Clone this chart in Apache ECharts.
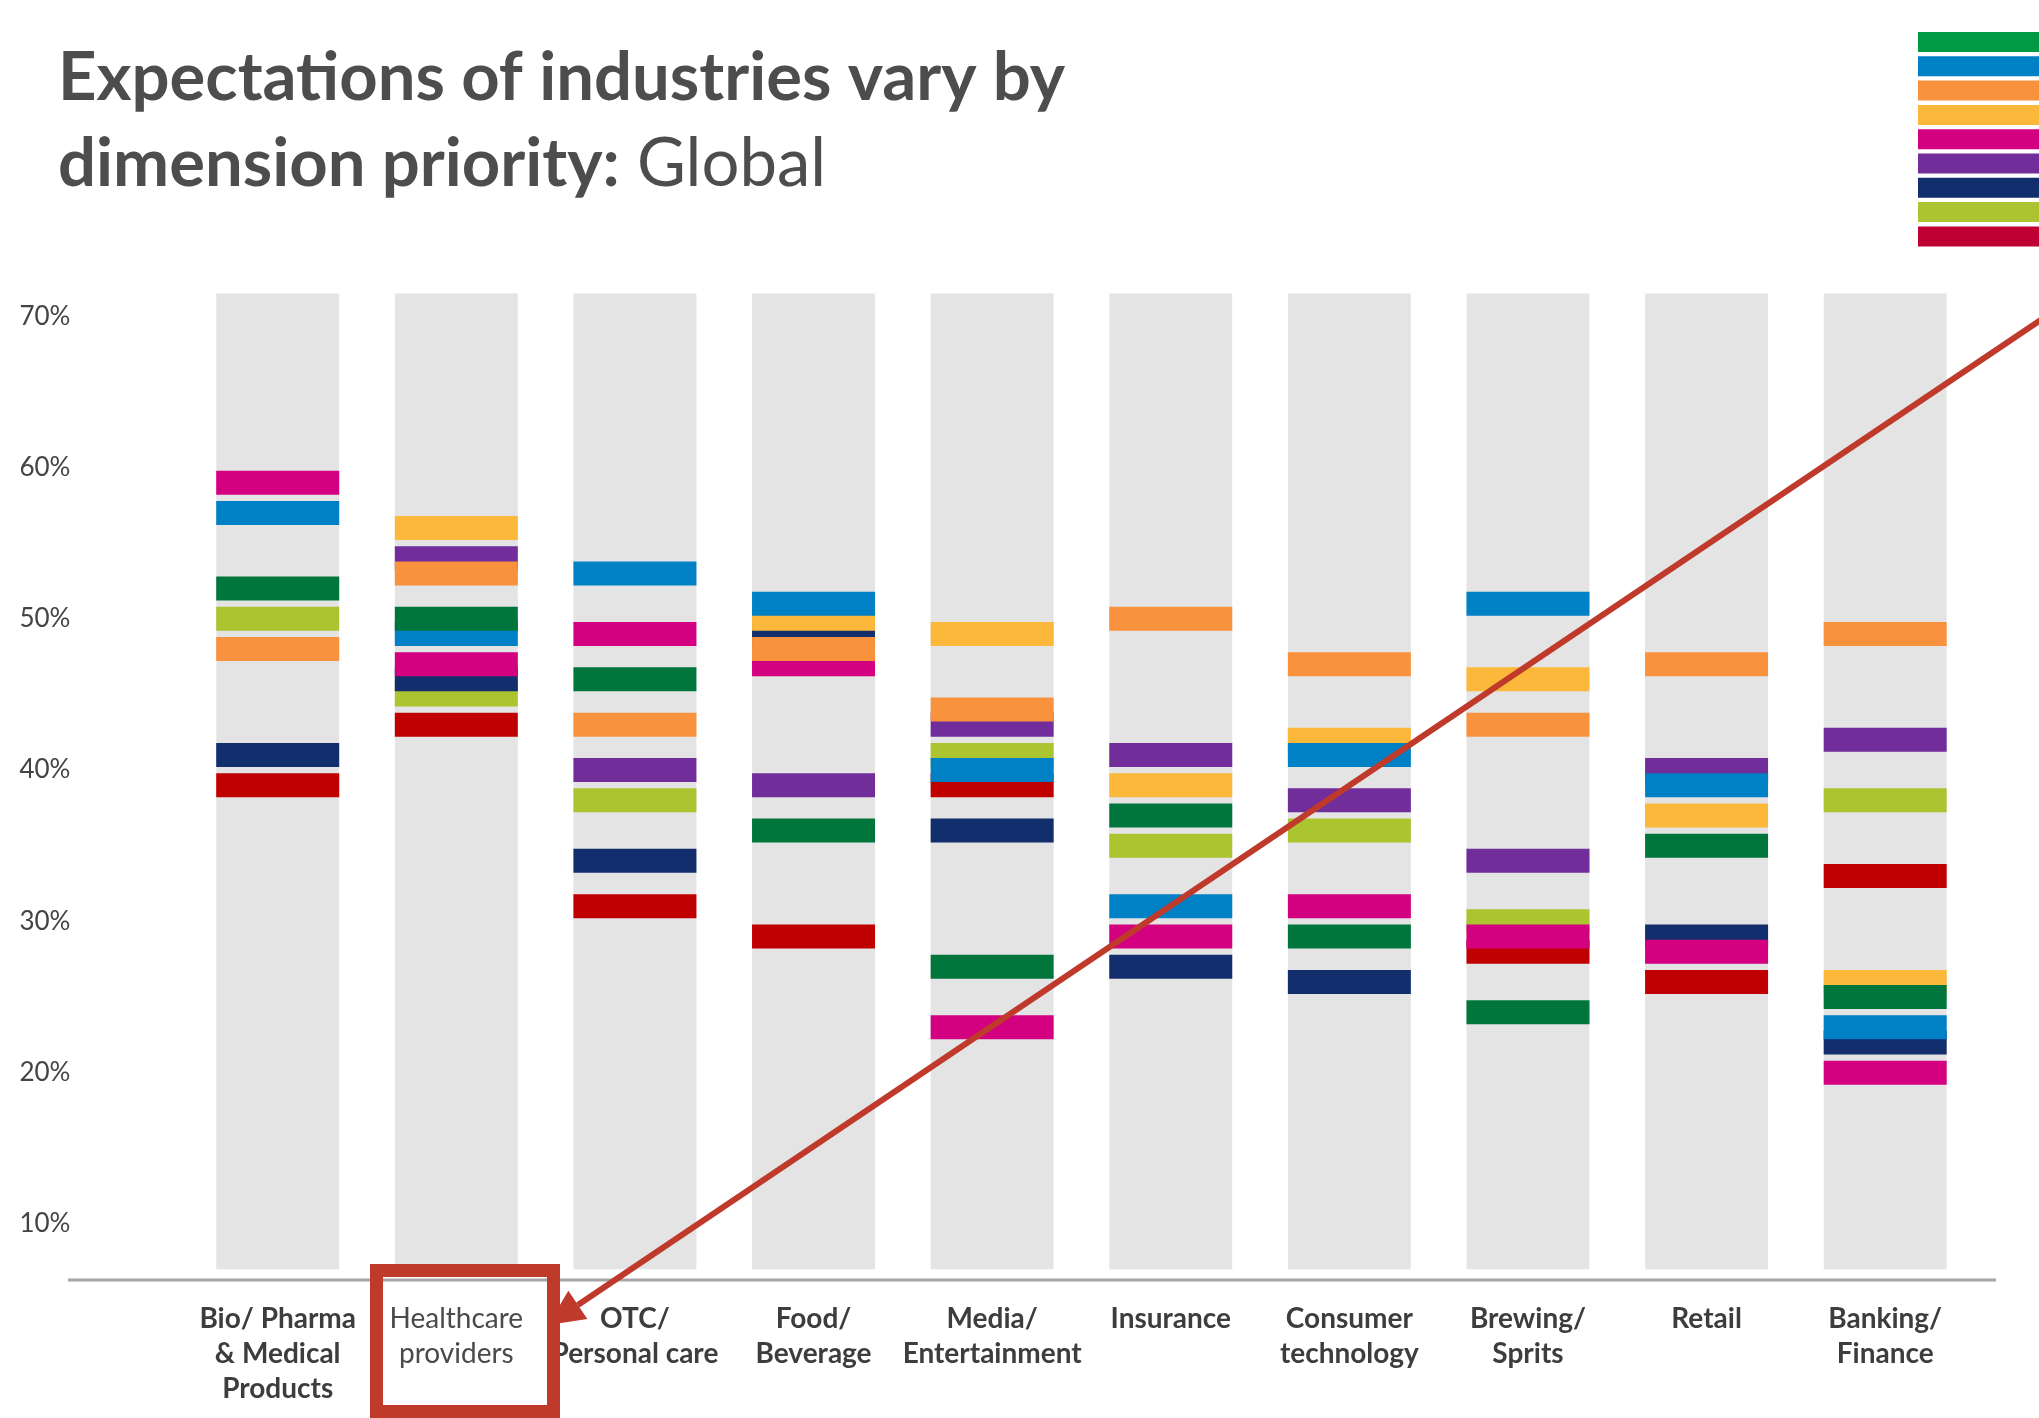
<!DOCTYPE html>
<html>
<head>
<meta charset="utf-8">
<script src="https://cdn.jsdelivr.net/npm/echarts@6/dist/echarts.min.js"></script>
<style>
  html, body { margin: 0; padding: 0; background: #ffffff; }
  #chart { width: 2039px; height: 1418px; }
</style>
</head>
<body>
<div id="chart"></div>
<script>
// Industries along the x axis
const industries = [
  'Bio/ Pharma\n& Medical\nProducts',
  'Healthcare\nproviders',
  'OTC/\nPersonal care',
  'Food/\nBeverage',
  'Media/\nEntertainment',
  'Insurance',
  'Consumer\ntechnology',
  'Brewing/\nSprits',
  'Retail',
  'Banking/\nFinance'
];

// Percent labels on the value axis
const yTicks = [10, 20, 30, 40, 50, 60, 70];

// Extent of the grey track behind every industry (percent)
const trackRange = [7, 71.5];

// Share (%) per dimension, one value per industry (null = not shown)
const green  = [52, 50, 46, 36, 27, 37, 29, 24, 35, 25];
const blue   = [57, 49, 53, 51, 40, 31, 41, 51, 39, 23];
const orange = [48, 53, 43, 48, 44, 50, 47, 43, 47, 49];
const yellow = [null, 56, null, 50, 49, 39, 42, 46, 37, 26];
const pink   = [59, 47, 49, 47, 23, 29, 31, 29, 28, 20];
const purple = [null, 54, 40, 39, 43, 41, 38, 34, 40, 42];
const navy   = [41, 46, 34, 49, 36, 27, 26, null, 29, 22];
const lime   = [50, 45, 38, null, 41, 35, 36, 30, null, 38];
const red    = [39, 43, 31, 29, 39, null, null, 28, 26, 33];

const seriesNames = ['Green', 'Blue', 'Orange', 'Yellow', 'Pink', 'Purple', 'Navy', 'Lime', 'Red'];
const seriesValues = [green, blue, orange, yellow, pink, purple, navy, lime, red];

// Marker colours and the slightly different key swatch colours
const markColors = ['#00763C', '#0080C5', '#F8923C', '#FBB83A', '#D3007F', '#712E9B', '#132E6C', '#ABC430', '#C00000'];
const keyColors  = ['#009A44', '#0080C5', '#F8923C', '#FBB83A', '#D3007F', '#712E9B', '#132E6C', '#ABC430', '#BE0032'];

const chart = echarts.init(document.getElementById('chart'), null, { renderer: 'canvas' });

const labelFont = 'Lato, "Open Sans", "Noto Sans", sans-serif';
const accent = '#BF3A2B';

const dimensionSeries = seriesNames.map((name, i) => ({
  name: name,
  type: 'scatter',
  data: seriesValues[i],
  symbol: 'rect',
  symbolSize: [123, 24],
  z: 20 - i,
  silent: true,
  emphasis: { disabled: true },
  itemStyle: { color: markColors[i], opacity: 1 }
}));

// Arrow head geometry for the call-out
function arrowHead(tip, from, len, half) {
  const dx = tip[0] - from[0], dy = tip[1] - from[1];
  const d = Math.sqrt(dx * dx + dy * dy);
  const ux = dx / d, uy = dy / d;
  const bx = tip[0] - ux * len, by = tip[1] - uy * len;
  return {
    base: [bx, by],
    points: [tip, [bx - uy * half, by + ux * half], [bx + uy * half, by - ux * half]]
  };
}
const arrowStart = [2060, 307];
const arrowTip = [548, 1325];
const head = arrowHead(arrowTip, arrowStart, 36, 17);

chart.setOption({
  animation: false,
  backgroundColor: '#ffffff',
  title: {
    left: 58,
    top: 35,
    padding: 0,
    text: '{b|Expectations of industries vary by}\n{b|dimension priority:}{r| Global}',
    textStyle: {
      rich: {
        b: { fontFamily: labelFont, fontWeight: 'bold', fontSize: 67, color: '#4d4d4d', lineHeight: 86 },
        r: { fontFamily: labelFont, fontWeight: 'normal', fontSize: 67, color: '#4d4d4d', lineHeight: 86 }
      }
    }
  },
  legend: {
    orient: 'vertical',
    left: 1918,
    top: 32,
    padding: 0,
    itemWidth: 200,
    itemHeight: 20,
    itemGap: 4.3,
    icon: 'rect',
    selectedMode: false,
    formatter: () => '',
    textStyle: { fontSize: 10 },
    data: seriesNames.map((name, i) => ({ name: name, itemStyle: { color: keyColors[i] } }))
  },
  grid: { left: 188.4, right: 64.5, top: 286, bottom: 138.1 },
  xAxis: {
    type: 'category',
    data: industries.map((name, i) => i === 1
      ? { value: name, textStyle: { fontWeight: 'normal', color: '#4a4a4a' } }
      : { value: name }),
    axisLine: { show: false },
    axisTick: { show: false },
    splitLine: { show: false },
    axisLabel: {
      interval: 0,
      margin: 22,
      fontFamily: labelFont,
      fontWeight: 'bold',
      fontSize: 28,
      lineHeight: 35,
      color: '#3d3d3d'
    }
  },
  yAxis: {
    type: 'value',
    min: 6.3,
    max: 72,
    axisLine: { show: false },
    axisTick: { show: false },
    splitLine: { show: false },
    axisLabel: {
      customValues: yTicks,
      formatter: '{value}%',
      align: 'left',
      margin: 169,
      fontFamily: labelFont,
      fontSize: 26,
      color: '#444444'
    }
  },
  series: [
    {
      name: 'track',
      type: 'custom',
      silent: true,
      z: 1,
      data: industries.map((_, i) => [i, trackRange[0], trackRange[1]]),
      encode: { x: 0, y: [1, 2] },
      renderItem: (params, api) => {
        const x = api.coord([api.value(0), 0])[0];
        const top = api.coord([api.value(0), api.value(2)])[1];
        const bottom = api.coord([api.value(0), api.value(1)])[1];
        const w = api.size([1, 0])[0] * 0.688;
        return {
          type: 'rect',
          shape: { x: x - w / 2, y: top, width: w, height: bottom - top },
          style: { fill: '#E4E4E4' }
        };
      }
    },
    ...dimensionSeries
  ],
  graphic: [
    // baseline under the tracks
    {
      type: 'line', z: 5, silent: true,
      shape: { x1: 68, y1: 1280, x2: 1996, y2: 1280 },
      style: { stroke: '#A6A6A6', lineWidth: 3 }
    },
    // call-out box around one category label
    {
      type: 'rect', z: 100, silent: true,
      shape: { x: 376.5, y: 1270.5, width: 177, height: 141 },
      style: { fill: null, stroke: accent, lineWidth: 13 }
    },
    // call-out arrow
    {
      type: 'line', z: 100, silent: true,
      shape: { x1: arrowStart[0], y1: arrowStart[1], x2: head.base[0], y2: head.base[1] },
      style: { stroke: accent, lineWidth: 6 }
    },
    {
      type: 'polygon', z: 100, silent: true,
      shape: { points: head.points },
      style: { fill: accent }
    }
  ]
});
</script>
</body>
</html>
